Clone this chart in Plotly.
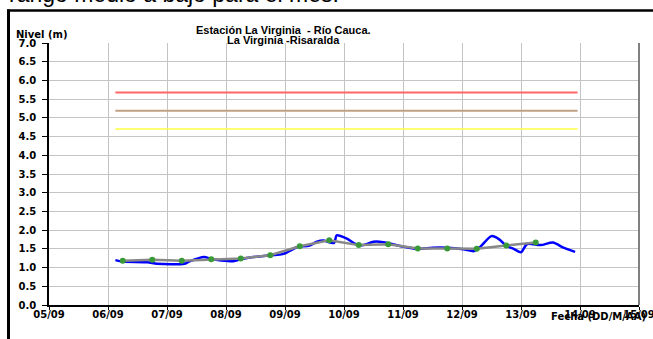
import plotly.graph_objects as go

# ---- data ----
nivel_horas = [
    "2011-09-06 03:00", "2011-09-06 06:00", "2011-09-06 16:00", "2011-09-06 20:00",
    "2011-09-07 07:00", "2011-09-07 09:00", "2011-09-07 15:00", "2011-09-07 18:00",
    "2011-09-07 22:00", "2011-09-08 03:00", "2011-09-08 06:00", "2011-09-08 11:00",
    "2011-09-08 18:00", "2011-09-08 23:00", "2011-09-09 01:30", "2011-09-09 05:00",
    "2011-09-09 10:00", "2011-09-09 13:00", "2011-09-09 15:30", "2011-09-09 20:00",
    "2011-09-09 21:00", "2011-09-10 01:00", "2011-09-10 05:00", "2011-09-10 08:00",
    "2011-09-10 12:00", "2011-09-10 16:00", "2011-09-11 00:00", "2011-09-11 05:30",
    "2011-09-11 12:00", "2011-09-11 18:00", "2011-09-12 00:30", "2011-09-12 05:00",
    "2011-09-12 07:30", "2011-09-12 12:00", "2011-09-12 15:00", "2011-09-12 18:00",
    "2011-09-12 21:00", "2011-09-13 00:00", "2011-09-13 02:30", "2011-09-13 08:00",
    "2011-09-13 13:00", "2011-09-13 17:00", "2011-09-13 22:00",
]
nivel_valores = [
    1.20, 1.16, 1.14, 1.10, 1.10, 1.16, 1.28, 1.23, 1.19, 1.17, 1.22, 1.28,
    1.33, 1.36, 1.43, 1.55, 1.59, 1.69, 1.72, 1.66, 1.86, 1.78, 1.62, 1.60,
    1.69, 1.68, 1.56, 1.50, 1.53, 1.53, 1.49, 1.44, 1.56, 1.84, 1.76, 1.58,
    1.50, 1.41, 1.63, 1.60, 1.67, 1.54, 1.42,
]
lecturas_horas = [
    "2011-09-06 06:00", "2011-09-06 18:00", "2011-09-07 06:00", "2011-09-07 18:00",
    "2011-09-08 06:00", "2011-09-08 18:00", "2011-09-09 06:00", "2011-09-09 18:00",
    "2011-09-10 06:00", "2011-09-10 18:00", "2011-09-11 06:00", "2011-09-11 18:00",
    "2011-09-12 06:00", "2011-09-12 18:00", "2011-09-13 06:00",
]
lecturas_valores = [1.18, 1.21, 1.18, 1.22, 1.24, 1.33, 1.57, 1.73, 1.60, 1.62,
                    1.51, 1.51, 1.50, 1.59, 1.67]
umbral_inicio_fin = ["2011-09-06 03:00", "2011-09-13 23:00"]
umbral_rojo, umbral_naranja, umbral_amarillo = 5.68, 5.19, 4.70
x_rango = ["2011-09-05", "2011-09-15"]
y_rango = [0, 7]
titulo_1 = "Estación La Virginia  - Río Cauca."
titulo_2 = "La Virginia -Risaralda"
eje_y_titulo = "Nivel (m)"
eje_x_titulo = "Fecha (DD/M/AA)"
texto_superior = "rango medio a bajo para el mes."

fig = go.Figure()
for val, col, w in [(umbral_rojo, "#ff6666", 2), (umbral_naranja, "#c0a085", 2),
                    (umbral_amarillo, "#ffff44", 1.5)]:
    fig.add_trace(go.Scatter(x=umbral_inicio_fin, y=[val, val], mode="lines",
                             line=dict(color=col, width=w), showlegend=False,
                             hoverinfo="skip"))
fig.add_trace(go.Scatter(x=nivel_horas, y=nivel_valores, mode="lines",
                         line=dict(color="#0000ff", width=2.5, shape="spline",
                                   smoothing=0.8), showlegend=False))
fig.add_trace(go.Scatter(x=lecturas_horas, y=lecturas_valores, mode="lines+markers",
                         line=dict(color="#888888", width=2.5),
                         marker=dict(color="#3a9a3a", size=6), showlegend=False))

tick_font = dict(family="DejaVu Sans", size=10, color="black", weight="bold")
fig.update_layout(
    width=653, height=339,
    margin=dict(l=49, r=14, t=43, b=34, autoexpand=False),
    paper_bgcolor="white", plot_bgcolor="white",
    hovermode=False,
    xaxis=dict(range=x_rango, type="date", dtick=86400000, tick0="2011-09-05",
               tickformat="%d/%m", showgrid=True, gridcolor="#c4c4c4",
               showline=True, linecolor="black", linewidth=1.5, ticks="outside",
               ticklen=3, tickcolor="black", tickfont=tick_font, zeroline=False,
               ticklabelstandoff=-4, ticklabeloverflow="allow", automargin=False),
    yaxis=dict(range=y_rango, dtick=0.5, tickformat=".1f", showgrid=True,
               gridcolor="#c4c4c4", showline=True, linecolor="black",
               linewidth=1.5, ticks="outside", ticklen=5, tickcolor="black",
               tickfont=tick_font, zeroline=False, ticklabelstandoff=4,
               automargin=False),
)

def px(xp): return (xp - 49) / 590.0
def py(yp): return (305 - yp) / 262.0

fig.add_shape(type="line", xref="paper", yref="paper", x0=1, x1=1, y0=0, y1=1,
              line=dict(color="#808080", width=2))
fig.add_shape(type="line", xref="paper", yref="paper", x0=px(8.5), x1=px(8.5),
              y0=py(339), y1=py(9.5), line=dict(color="black", width=3))
fig.add_shape(type="line", xref="paper", yref="paper", x0=px(7), x1=px(653),
              y0=py(10.5), y1=py(10.5), line=dict(color="black", width=2.5))

arial_b = dict(family="Arial, Liberation Sans", size=11, color="black", weight="bold")
fig.add_annotation(text=texto_superior, xref="paper", yref="paper", x=px(7), y=py(9),
                   xanchor="left", yanchor="bottom", showarrow=False,
                   font=dict(family="Arial, Liberation Sans", size=23, color="black"))
fig.add_annotation(text=titulo_1, xref="paper", yref="paper", x=px(283), y=py(22),
                   showarrow=False, font=arial_b)
fig.add_annotation(text=titulo_2, xref="paper", yref="paper", x=px(283), y=py(32),
                   showarrow=False, font=arial_b)
fig.add_annotation(text=eje_y_titulo, xref="paper", yref="paper", x=px(14), y=py(27),
                   xanchor="left", showarrow=False, font=tick_font)
fig.add_annotation(text=eje_x_titulo, xref="paper", yref="paper", x=px(549), y=py(324),
                   xanchor="left", showarrow=False, font=tick_font)

fig.write_html("out.html", config={"displayModeBar": False},
               post_script=("document.body.style.margin='0';"
                            "document.body.style.overflow='hidden';"
                            "document.documentElement.style.overflow='hidden';"))
